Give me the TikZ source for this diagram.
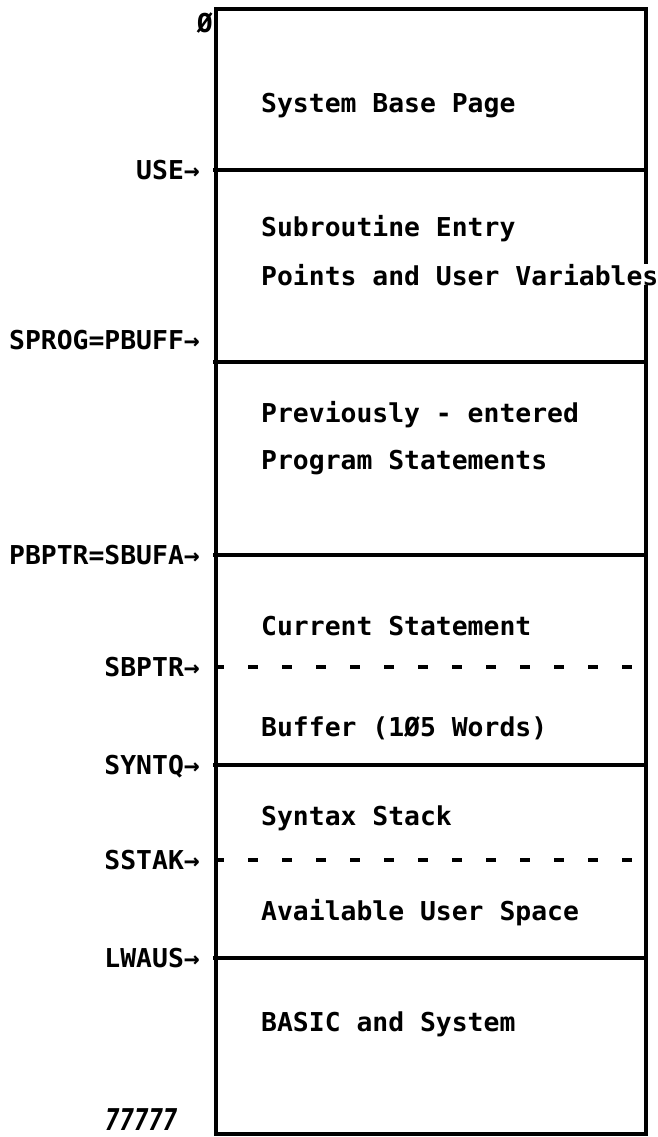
\documentclass[tikz,border=0pt]{standalone}
\usepackage{fontspec}
\newfontfamily\memfont[FakeStretch=1.015]{DejaVu Sans Mono}
\newfontfamily\numfont[FakeStretch=0.8]{DejaVu Sans Mono}
\newcommand\memtext{\memfont\bfseries\fontsize{26}{30}\selectfont}
\newcommand\numtext{\numfont\bfseries\itshape\fontsize{30}{34}\selectfont}
\begin{document}
\begin{tikzpicture}[x=1pt,y=-1pt,
  wall/.style={line width=3.4pt},
  sepline/.style={line width=3.4pt},
  dsepline/.style={line width=3.4pt, dash pattern=on 10pt off 24pt, dash phase=2pt},
  region/.style={anchor=base west, inner sep=0pt, font=\memtext},
  ptr/.style={anchor=base east, inner sep=0pt, font=\memtext}]
\useasboundingbox (0,0) rectangle (657,1137);
% outer frame
\coordinate (tl) at (216,9);
\coordinate (tr) at (646,9);
\coordinate (br) at (646,1134);
\coordinate (bl) at (216,1134);
\draw[wall] (tl) -- (tr) -- (br) -- (bl) -- cycle;
% separators
\coordinate (useL) at (213,170);   \coordinate (useR) at (646,170);
\coordinate (sprL) at (213,362);   \coordinate (sprR) at (646,362);
\coordinate (pbpL) at (213,555);   \coordinate (pbpR) at (646,555);
\coordinate (sbpL) at (216,667);   \coordinate (sbpR) at (646,667);
\coordinate (synL) at (213,765);   \coordinate (synR) at (646,765);
\coordinate (sstL) at (216,860);   \coordinate (sstR) at (646,860);
\coordinate (lwaL) at (213,958);   \coordinate (lwaR) at (646,958);
\draw[sepline] (useL) -- (useR);
\draw[sepline] (sprL) -- (sprR);
\draw[sepline] (pbpL) -- (pbpR);
\draw[dsepline] (sbpL) -- (sbpR);
\draw[sepline] (synL) -- (synR);
\draw[dsepline] (sstL) -- (sstR);
\draw[sepline] (lwaL) -- (lwaR);
% region texts
\node[region] (sbp) at (261,113) {System Base Page};
\node[region] (sub1) at (261,236) {Subroutine Entry};
\node[region, fill=white] (sub2) at (261,285) {Points and User Variables};
\node[region] (prev1) at (261,422) {Previously - entered};
\node[region] (prev2) at (261,469) {Program Statements};
\node[region] (cur) at (261,635) {Current Statement};
\node[region] (buf) at (261,736) {Buffer (1Ø5 Words)};
\node[region] (syn) at (261,825) {Syntax Stack};
\node[region] (avl) at (261,920) {Available User Space};
\node[region] (bas) at (261,1031) {BASIC and System};
% pointer labels
\node[ptr] (zero) at (213,33) {Ø};
\node[ptr] (use) at (200,179) {USE→};
\node[ptr] (sprog) at (200,349) {SPROG=PBUFF→};
\node[ptr] (pbptr) at (200,564) {PBPTR=SBUFA→};
\node[ptr] (sbptr) at (200,676) {SBPTR→};
\node[ptr] (syntq) at (200,774) {SYNTQ→};
\node[ptr] (sstak) at (200,869) {SSTAK→};
\node[ptr] (lwaus) at (200,967) {LWAUS→};
\node[anchor=base west, inner sep=0pt, font=\numtext] (last) at (105,1130) {77777};
\end{tikzpicture}
\end{document}
